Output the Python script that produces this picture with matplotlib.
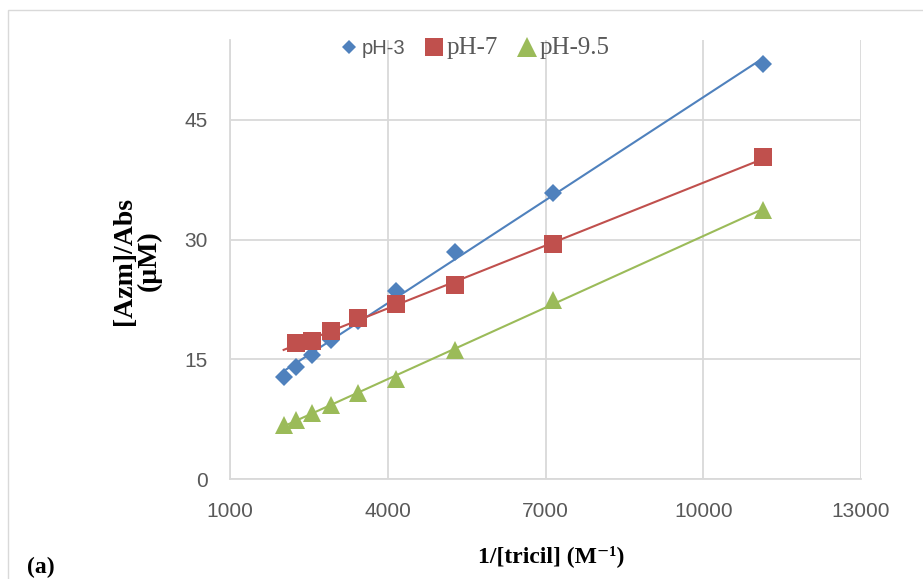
import numpy as np
import matplotlib
matplotlib.use("Agg")
import matplotlib.pyplot as plt
from matplotlib.lines import Line2D
from matplotlib.patches import Rectangle

# 1/[tricil] values (M^-1)
inv_tricil = [2020, 2260, 2550, 2930, 3440, 4160, 5270, 7140, 11130]

# [Azm]/Abs (uM) for each pH
ph3 = [12.8, 14.1, 15.5, 17.4, 19.8, 23.6, 28.5, 35.8, 52.0]
ph7 = [None, 17.1, 17.3, 18.6, 20.2, 22.0, 24.3, 29.4, 40.3]
ph95 = [6.8, 7.4, 8.3, 9.3, 10.75, 12.6, 16.25, 22.4, 33.7]

series_names = ["pH-3", "pH-7", "pH-9.5"]
series_colors = ["#4F81BD", "#C0504D", "#9BBB59"]
series_markers = ["D", "s", "^"]
series_msize = [9.5, 13, 13]

x_ticks = [1000, 4000, 7000, 10000, 13000]
y_ticks = [0, 15, 30, 45]

GRID = "#D9D9D9"
TXT = "#595959"

fig = plt.figure(figsize=(9.23, 5.79), dpi=100)
fig.patch.set_facecolor("white")
ax = fig.add_axes([230 / 923, 1 - 479.3 / 579, 631 / 923, 439.3 / 579])

# chart area border (runs off the right and bottom of the picture)
fig.patches.append(Rectangle((8 / 923, -0.2), 1.2, (579 - 9.5) / 579 + 0.2,
                             transform=fig.transFigure, fill=False,
                             edgecolor=GRID, linewidth=1.0))

x = np.array(inv_tricil, dtype=float)
for vals, name, col, mk, ms in zip([ph3, ph7, ph95], series_names,
                                   series_colors, series_markers, series_msize):
    y = np.array([np.nan if v is None else v for v in vals], dtype=float)
    ok = ~np.isnan(y)
    # linear trendline across the measured range
    k, b = np.polyfit(x[ok], y[ok], 1)
    xl = np.array([x.min(), x.max()])
    ax.plot(xl, k * xl + b, color=col, linewidth=1.5, zorder=3)
    ax.plot(x[ok], y[ok], linestyle="none", marker=mk, markersize=ms,
            color=col, markeredgewidth=0, zorder=4, label=name)

ax.set_xlim(1000, 13000)
ax.set_ylim(0, 55)
ax.set_xticks(x_ticks)
ax.set_yticks(y_ticks)
ax.grid(True, color=GRID, linewidth=1.3, zorder=0)
ax.set_axisbelow(True)
for side in ["top", "right"]:
    ax.spines[side].set_visible(False)
for side in ["left", "bottom"]:
    ax.spines[side].set_color(GRID)
    ax.spines[side].set_linewidth(1.3)
ax.tick_params(length=0, labelcolor=TXT, labelsize=15, pad=16)
for lab in ax.get_xticklabels() + ax.get_yticklabels():
    lab.set_fontfamily("Liberation Sans")

# legend
handles = [Line2D([], [], linestyle="none", marker=m, color=c, markersize=s,
                  markeredgewidth=0)
           for m, c, s in zip(series_markers, series_colors, [7, 13.5, 14])]
leg = ax.legend(handles, series_names, loc="center", ncol=3,
                bbox_to_anchor=(0.389, 0.982), frameon=False, fontsize=14,
                handlelength=0.8, handletextpad=0.27, columnspacing=1.05,
                borderaxespad=0, borderpad=0)
for i, t in enumerate(leg.get_texts()):
    t.set_color(TXT)
    if i == 0:
        t.set_fontfamily("Liberation Sans")
        t.set_fontsize(14.5)
    else:
        t.set_fontfamily("Liberation Serif")
        t.set_fontsize(18)

# axis titles
fig.text(137 / 923, 1 - 261 / 579, "[Azm]/Abs\n(\u00b5M)", rotation=90,
         ha="center", va="center", fontsize=20, fontweight="bold",
         fontfamily="Liberation Serif", linespacing=0.95)
fig.text(551 / 923, 1 - 556 / 579, "1/[tricil] (M\u207b\u00b9)",
         ha="center", va="center", fontsize=17, fontweight="bold",
         family=["Liberation Serif", "DejaVu Serif"])
fig.text(27 / 923, 1 - 567 / 579, "(a)", ha="left", va="center",
         fontsize=17, fontweight="bold", fontfamily="Liberation Serif")

fig.savefig("out.png", dpi=100, facecolor="white")
